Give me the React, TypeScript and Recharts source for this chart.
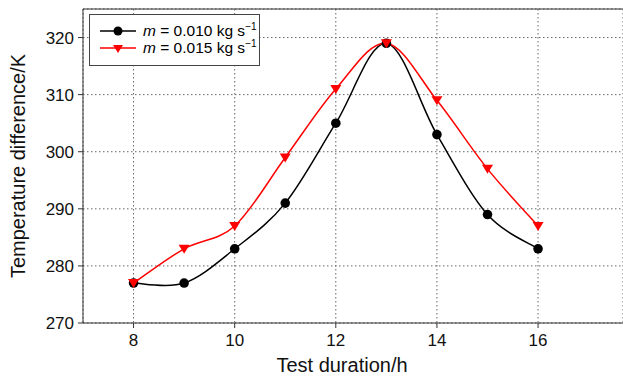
import React from 'react';
import { LineChart, Line, XAxis, YAxis, CartesianGrid, Legend, ReferenceLine } from 'recharts';

const hours = [8, 9, 10, 11, 12, 13, 14, 15, 16];
const flow010 = [277, 277, 283, 291, 305, 319, 303, 289, 283];
const flow015 = [277, 283, 287, 299, 311, 319, 309, 297, 287];
const xTicks = [8, 10, 12, 14, 16];
const yTicks = [270, 280, 290, 300, 310, 320];

const FONT = '"Liberation Sans", Arial, sans-serif';

const data = hours.map((h, i) => ({ h, a: flow010[i], b: flow015[i] }));

// Catmull-Rom style curve (cardinal, tension 0) – passes through every point
const smoothCurve = (context: any) => {
  let pts: number[][] = [];
  return {
    areaStart() {},
    areaEnd() {},
    lineStart() {
      pts = [];
    },
    lineEnd() {
      const n = pts.length;
      if (!n) return;
      context.moveTo(pts[0][0], pts[0][1]);
      for (let i = 0; i < n - 1; i++) {
        const p0 = pts[Math.max(i - 1, 0)];
        const p1 = pts[i];
        const p2 = pts[i + 1];
        const p3 = pts[Math.min(i + 2, n - 1)];
        context.bezierCurveTo(
          p1[0] + (p2[0] - p0[0]) / 6,
          p1[1] + (p2[1] - p0[1]) / 6,
          p2[0] - (p3[0] - p1[0]) / 6,
          p2[1] - (p3[1] - p1[1]) / 6,
          p2[0],
          p2[1]
        );
      }
    },
    point(x: number, y: number) {
      pts.push([+x, +y]);
    },
  };
};

const Triangle = (props: any) => {
  const { cx, cy } = props;
  if (cx == null || cy == null) return null;
  return <path d={`M${cx - 5.5},${cy - 4} L${cx + 5.5},${cy - 4} L${cx},${cy + 5} Z`} fill="#ff0000" />;
};

const LegendBox = () => {
  const row = (color: string, marker: React.ReactNode, value: string) => (
    <div style={{ display: 'flex', alignItems: 'center', height: 17 }}>
      <svg width={44} height={14} style={{ flex: 'none' }}>
        <line x1={1} y1={7} x2={37} y2={7} stroke={color} strokeWidth={1.5} />
        {marker}
      </svg>
      <span style={{ whiteSpace: 'nowrap' }}>
        <i>m</i> = {value} kg s<sup style={{ fontSize: 10, verticalAlign: 6, lineHeight: 0 }}>−1</sup>
      </span>
    </div>
  );
  return (
    <div
      style={{
        boxSizing: 'border-box',
        width: 171,
        height: 52,
        border: '1px solid #444',
        background: '#fff',
        padding: '7px 0 0 9px',
        fontFamily: FONT,
        fontSize: 15.5,
        color: '#000',
      }}
    >
      {row('#000', <circle cx={19} cy={7} r={4.5} fill="#000" />, '0.010')}
      {row('#ff0000', <path d="M14,4 L24,4 L19,12 Z" fill="#ff0000" />, '0.015')}
    </div>
  );
};

export default function App() {
  return (
    <div style={{ position: 'absolute', left: 0, top: 0, width: 623, height: 377, background: '#fff', overflow: 'hidden' }}>
      <LineChart width={623} height={377} data={data} margin={{ top: 9, right: 0, bottom: 0, left: 0 }}>
        <CartesianGrid stroke="#666" strokeDasharray="1.5 2.5" />
        <XAxis
          dataKey="h"
          type="number"
          domain={[7, 17.68]}
          ticks={xTicks}
          allowDataOverflow
          height={54}
          stroke="#333"
          tickSize={5}
          tickMargin={6}
          tick={{ fill: '#111', fontSize: 17, fontFamily: FONT }}
          label={{
            content: () => (
              <text x={342} y={372} textAnchor="middle" fontSize={20} fontFamily={FONT} fill="#111">
                Test duration/h
              </text>
            ),
          }}
        />
        <YAxis
          type="number"
          domain={[270, 325]}
          ticks={yTicks}
          allowDataOverflow
          width={83}
          stroke="#333"
          tickSize={5}
          tickMargin={4}
          tick={{ fill: '#111', fontSize: 17, fontFamily: FONT }}
          label={{
            content: () => (
              <text
                x={18}
                y={166}
                transform="rotate(-90 18 166)"
                textAnchor="middle"
                dominantBaseline="central"
                fontSize={20}
                fontFamily={FONT}
                fill="#111"
              >
                Temperature difference/K
              </text>
            ),
          }}
        />
        <ReferenceLine y={325} stroke="#333" strokeWidth={1} />
        <Legend
          layout="vertical"
          align="center"
          verticalAlign="middle"
          wrapperStyle={{ top: 14, left: 89, width: 'auto' }}
          content={() => <LegendBox />}
        />
        <Line
          dataKey="a"
          type={smoothCurve as any}
          stroke="#000"
          strokeWidth={1.5}
          dot={{ r: 4.8, fill: '#000', stroke: '#000', strokeWidth: 0 }}
          activeDot={false}
          isAnimationActive={false}
        />
        <Line
          dataKey="b"
          type={smoothCurve as any}
          stroke="#ff0000"
          strokeWidth={1.5}
          dot={<Triangle />}
          activeDot={false}
          isAnimationActive={false}
        />
      </LineChart>
    </div>
  );
}
